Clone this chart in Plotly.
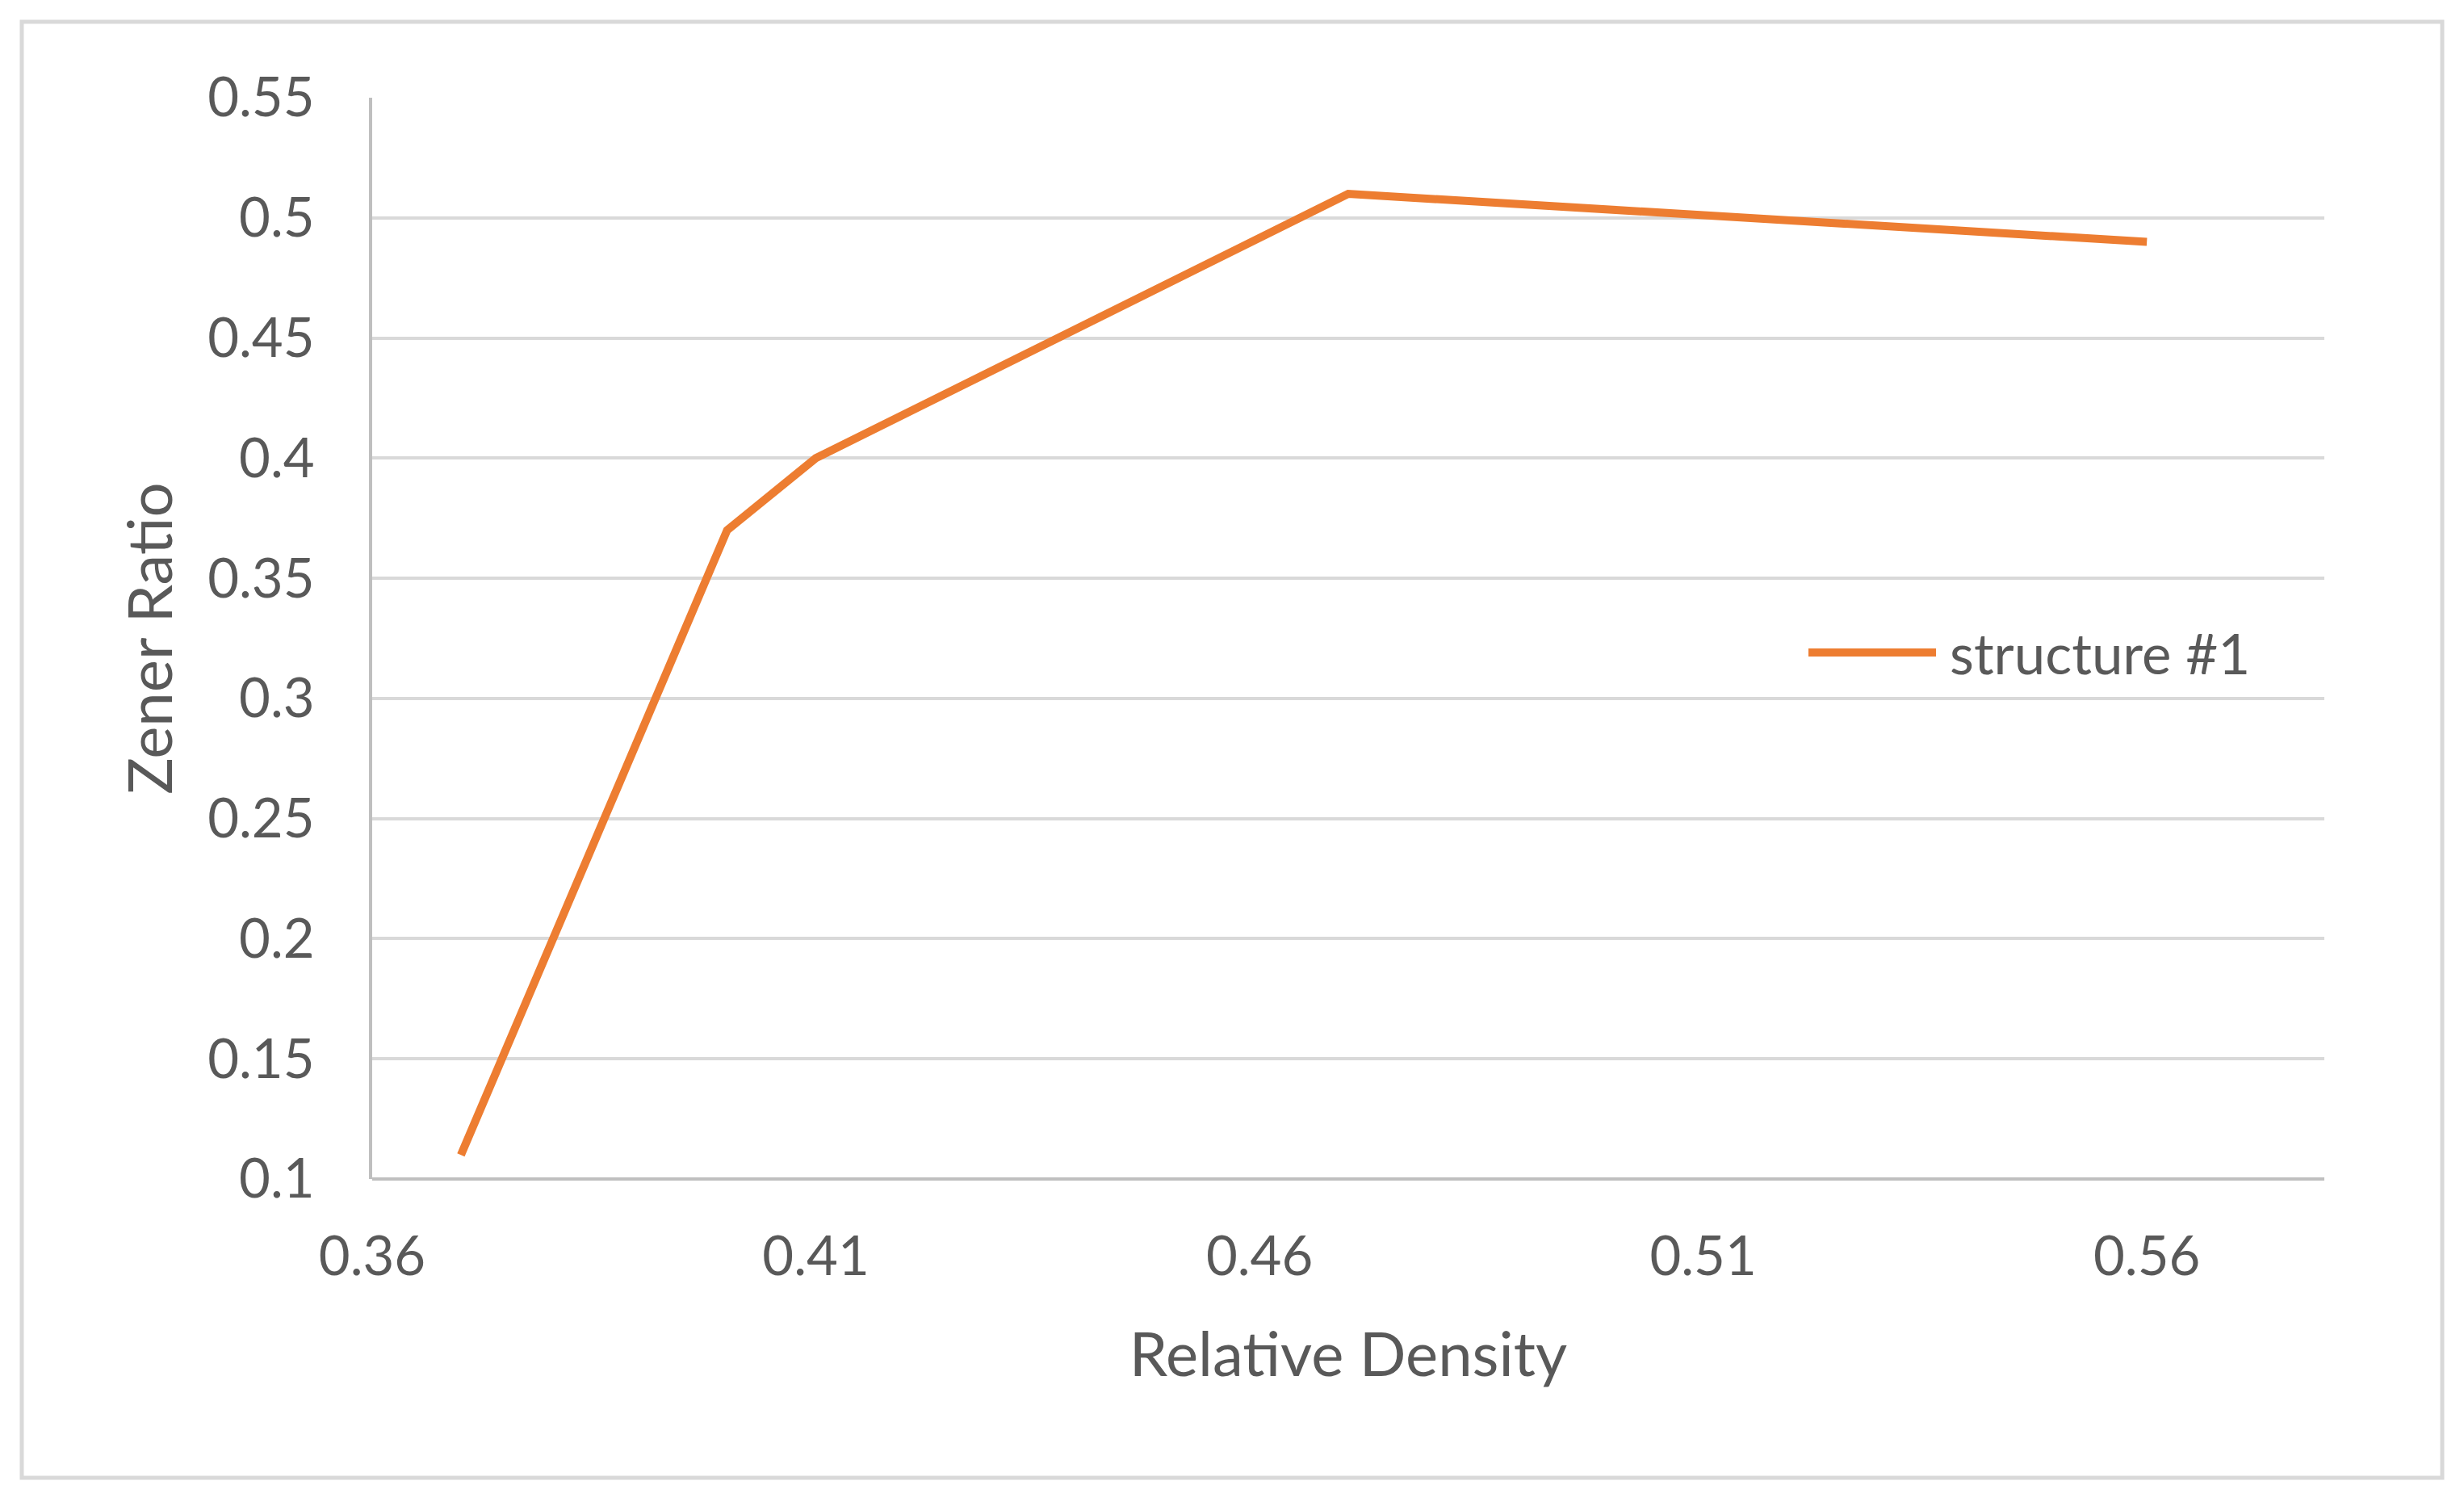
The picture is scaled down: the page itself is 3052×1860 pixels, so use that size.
import plotly.graph_objects as go

# values
relative_density = [0.37, 0.40, 0.41, 0.47, 0.56]
zener_ratio = [0.11, 0.37, 0.40, 0.51, 0.49]
series_name = "structure #1"

x_ticks = [0.36, 0.41, 0.46, 0.51, 0.56]
y_ticks = [0.1, 0.15, 0.2, 0.25, 0.3, 0.35, 0.4, 0.45, 0.5, 0.55]

W, H = 3052, 1860
L, T = 453, 113
PW, PH = 2418, 1339
R, B = W - L - PW, H - T - PH
TEXT = "#595959"
ORANGE = "#ED7D31"
FONT = "Lato"


def px(x):
    # figure pixel -> paper x
    return (x - L) / PW


def py(y):
    # figure pixel -> paper y
    return (T + PH - y) / PH


fig = go.Figure()
fig.add_trace(go.Scatter(
    x=relative_density,
    y=zener_ratio,
    mode="lines",
    name=series_name,
    line=dict(color=ORANGE, width=10),
    showlegend=False,
))

fig.update_layout(
    width=W,
    height=H,
    margin=dict(l=L, r=R, t=T, b=B),
    paper_bgcolor="white",
    plot_bgcolor="white",
    font=dict(family=FONT, color=TEXT, size=67),
)

fig.update_xaxes(
    range=[0.36, 0.58],
    tickvals=x_ticks,
    ticktext=[f"{v:g}" for v in x_ticks],
    showgrid=False,
    zeroline=False,
    showline=False,
    ticks="outside", ticklen=38, tickcolor="rgba(0,0,0,0)",
    tickfont=dict(size=67, color=TEXT),
    title=dict(text="Relative Density", font=dict(size=76, color=TEXT), standoff=58),
)
fig.update_yaxes(
    range=[0.1, 0.55],
    tickvals=y_ticks,
    ticktext=[f"{v:g}" for v in y_ticks],
    showgrid=True, gridcolor="#D9D9D9", gridwidth=4,
    zeroline=False,
    showline=True, linecolor="#BFBFBF", linewidth=4,
    ticks="outside", ticklen=54, tickcolor="rgba(0,0,0,0)",
    tickfont=dict(size=67, color=TEXT),
    title=dict(text="Zener Ratio", font=dict(size=76, color=TEXT), standoff=20),
)

# bottom axis line on top of the 0.1 gridline
fig.add_shape(type="line", xref="paper", yref="paper", x0=0, x1=1, y0=0, y1=0,
              line=dict(color="#BFBFBF", width=4))

# legend entry, Excel style with a long line sample
fig.add_shape(type="line", xref="paper", yref="paper",
              x0=px(2232), x1=px(2390), y0=py(800), y1=py(800),
              line=dict(color=ORANGE, width=10))
fig.add_annotation(xref="paper", yref="paper", x=px(2405), y=py(800),
                   text=series_name, showarrow=False,
                   xanchor="left", yanchor="middle",
                   font=dict(size=69, color=TEXT))

# chart-area border
fig.add_shape(type="rect", xref="paper", yref="paper",
              x0=px(19), x1=px(3017), y0=py(1822), y1=py(19),
              line=dict(color="#D9D9D9", width=5))

fig.write_html("out.html")
